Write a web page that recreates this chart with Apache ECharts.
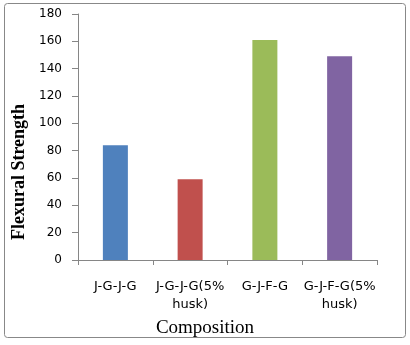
<!DOCTYPE html>
<html>
<head>
<meta charset="utf-8">
<script src="https://cdn.jsdelivr.net/npm/echarts@6/dist/echarts.min.js"></script>
<style>
html, body { margin: 0; padding: 0; background: #fff; }
#main { width: 410px; height: 345px; }
</style>
</head>
<body>
<div id="main"></div>
<script>
var categories = ['J-G-J-G', 'J-G-J-G(5%\nhusk)', 'G-J-F-G', 'G-J-F-G(5%\nhusk)'];
var strength = [84, 59, 161, 149];
var barColors = ['#4F81BD', '#C0504D', '#9BBB59', '#8064A2'];

var chart = echarts.init(document.getElementById('main'));
var option = {
    animation: false,
    graphic: [{
        type: 'rect',
        shape: { x: 4.5, y: 3.5, width: 401, height: 334, r: 3 },
        style: { fill: 'none', stroke: '#888', lineWidth: 1 },
        silent: true
    }],
    grid: {
        left: 78,
        right: 33,
        top: 14,
        bottom: 85
    },
    xAxis: {
        type: 'category',
        data: categories,
        name: 'Composition',
        nameLocation: 'middle',
        nameGap: 47,
        nameTextStyle: {
            fontFamily: 'Liberation Serif',
            fontSize: 19,
            color: '#000',
            padding: [0, 45, 0, 0]
        },
        axisLine: { lineStyle: { color: '#868686' } },
        axisTick: { show: true, length: 5, alignWithLabel: false, lineStyle: { color: '#868686' } },
        axisLabel: {
            interval: 0,
            margin: 18,
            fontFamily: 'DejaVu Sans',
            fontSize: 13,
            lineHeight: 18,
            color: '#000'
        },
        splitLine: { show: false }
    },
    yAxis: {
        type: 'value',
        min: 0,
        max: 180,
        interval: 20,
        name: 'Flexural Strength',
        nameLocation: 'middle',
        nameGap: 47,
        nameTextStyle: {
            fontFamily: 'Liberation Serif',
            fontWeight: 'bold',
            fontSize: 18,
            color: '#000',
            padding: [0, 70, 0, 0]
        },
        axisLine: { show: true, lineStyle: { color: '#868686' } },
        axisTick: { show: true, length: 6, lineStyle: { color: '#868686' } },
        axisLabel: {
            margin: 16,
            fontFamily: 'DejaVu Sans',
            fontSize: 12,
            color: '#000'
        },
        splitLine: { show: false }
    },
    series: [{
        type: 'bar',
        barWidth: 25,
        data: strength.map(function (v, i) {
            return { value: v, itemStyle: { color: barColors[i] } };
        })
    }]
};
chart.setOption(option);
</script>
</body>
</html>
